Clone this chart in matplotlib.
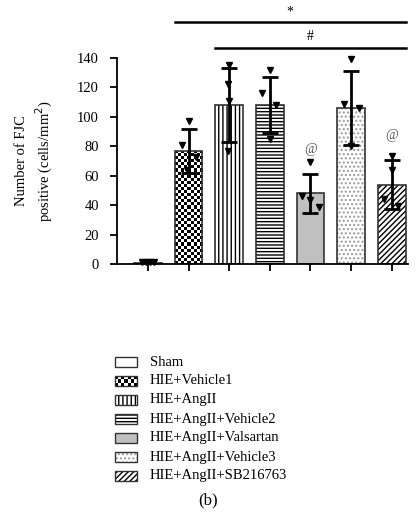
import matplotlib
matplotlib.use("Agg")
import matplotlib.pyplot as plt
import numpy as np
from matplotlib.patches import Rectangle

plt.rcParams["font.family"] = ["Liberation Serif", "DejaVu Serif"]
plt.rcParams["hatch.linewidth"] = 1.0

# данные
groups = ["Sham", "HIE+Vehicle1", "HIE+AngII", "HIE+AngII+Vehicle2",
          "HIE+AngII+Valsartan", "HIE+AngII+Vehicle3", "HIE+AngII+SB216763"]
means = [1, 77, 108, 108, 48, 106, 54]
sds = [0, 15, 25, 19, 13, 25, 16.5]
points = [
    [1.5, 1.5, 1.5, 1.5],
    [97, 81, 73, 64],
    [135, 122, 111, 77],
    [116, 132, 108, 85],
    [69, 46, 43.5, 39],
    [139, 108.5, 106, 80],
    [73.5, 64, 44, 39.5],
]
jitter = [
    [-0.15, -0.05, 0.05, 0.15],
    [0.0, -0.17, 0.18, -0.03],
    [0.0, -0.02, 0.0, -0.02],
    [-0.2, 0.0, 0.15, 0.0],
    [0.0, -0.2, 0.0, 0.2],
    [0.0, -0.18, 0.2, 0.0],
    [0.0, 0.0, -0.18, 0.15],
]
at_groups = [4, 6]  # где стоит "@"

faces = ["white", "checker", "white", "white", "#c0c0c0", "white", "white"]
hatches = [None, None, "||||", "-----", None, "....", "//////"]
hatch_cols = ["k", "k", "k", "k", "k", "#9a9a9a", "k"]

W, H = 417, 515
fig = plt.figure(figsize=(W / 100, H / 100), dpi=100)
ax = fig.add_axes([117 / W, 1 - 264 / H, 291 / W, 206 / H])

x = np.arange(len(groups))
bw = 0.68


def checker(a, x0, x1, y0, y1, nx, ny, clip):
    pat = (np.indices((ny, nx)).sum(axis=0) % 2).astype(float)
    im = a.imshow(pat, cmap="gray", extent=(x0, x1, y0, y1), aspect="auto",
                  interpolation="nearest", zorder=1)
    im.set_clip_path(clip)


def face_of(k):
    if hatches[k] is not None or faces[k] == "checker":
        return "none"
    return faces[k]


for i in x:
    if hatches[i] is not None:
        ax.bar(i, means[i], bw, color="white", edgecolor=hatch_cols[i],
               hatch=hatches[i], linewidth=0, zorder=1)
    bar = ax.bar(i, means[i], bw, color=face_of(i), edgecolor="#333333",
                 linewidth=1.2, zorder=2)
    if faces[i] == "checker":
        ny = int(means[i] * 1.47 / 3)
        checker(ax, i - bw / 2, i + bw / 2, 0, means[i], 9, ny, bar[0])

ax.errorbar(x[1:], means[1:], yerr=sds[1:], fmt="none", ecolor="black",
            elinewidth=2, capsize=6, capthick=2, zorder=4)

for i in x:
    ax.plot(i + np.array(jitter[i]), points[i], "v", color="black",
            markersize=5, zorder=5, clip_on=False)

for i in at_groups:
    ax.text(i, means[i] + sds[i] + 17, "@", ha="center", va="center",
            fontsize=10, color="#555555")

ax.set_xlim(-0.76, 6.4)
ax.set_ylim(0, 140)
ax.set_yticks(range(0, 141, 20))
ax.set_xticks(x)
ax.set_xticklabels([])
for s in ["top", "right"]:
    ax.spines[s].set_visible(False)
for s in ["left", "bottom"]:
    ax.spines[s].set_linewidth(1.3)
ax.tick_params(axis="y", length=5, width=1.3, pad=8, labelsize=10.5)
ax.tick_params(axis="x", length=5, width=1.3)

# линии значимости над столбцами
ax.plot([1 - bw / 2, 6 + bw / 2], [164.5, 164.5], color="black", lw=1.8, clip_on=False)
ax.text(3.5, 171.5, "*", ha="center", va="center", fontsize=10)
ax.plot([2 - bw / 2, 6 + bw / 2], [147, 147], color="black", lw=1.8, clip_on=False)
ax.text(4.0, 154.5, "#", ha="center", va="center", fontsize=10)

fig.text(35 / W, 1 - 161 / H, "Number of FJC\npositive (cells/mm$^2$)",
         rotation=90, ha="center", va="center", multialignment="center",
         fontsize=10.5, linespacing=1.4)

# легенда вручную
lg = fig.add_axes([0, 0, 1, 1])
lg.set_xlim(0, W)
lg.set_ylim(H, 0)
lg.axis("off")
for k, name in enumerate(groups):
    yc = 362 + 19 * k
    if hatches[k] is not None:
        lg.add_patch(Rectangle((115, yc - 5), 22, 10, facecolor="white",
                               edgecolor=hatch_cols[k], hatch=hatches[k], linewidth=0))
    r = Rectangle((115, yc - 5), 22, 10, facecolor=face_of(k), edgecolor="#333333",
                  linewidth=1.0, zorder=3)
    lg.add_patch(r)
    if faces[k] == "checker":
        checker(lg, 115, 137, yc + 5, yc - 5, 7, 3, r)
    lg.text(150, yc, name, ha="left", va="center", fontsize=10.5)

fig.text(0.5, 1 - 500 / H, "(b)", ha="center", va="center", fontsize=12)

fig.savefig("out.png", dpi=100)
